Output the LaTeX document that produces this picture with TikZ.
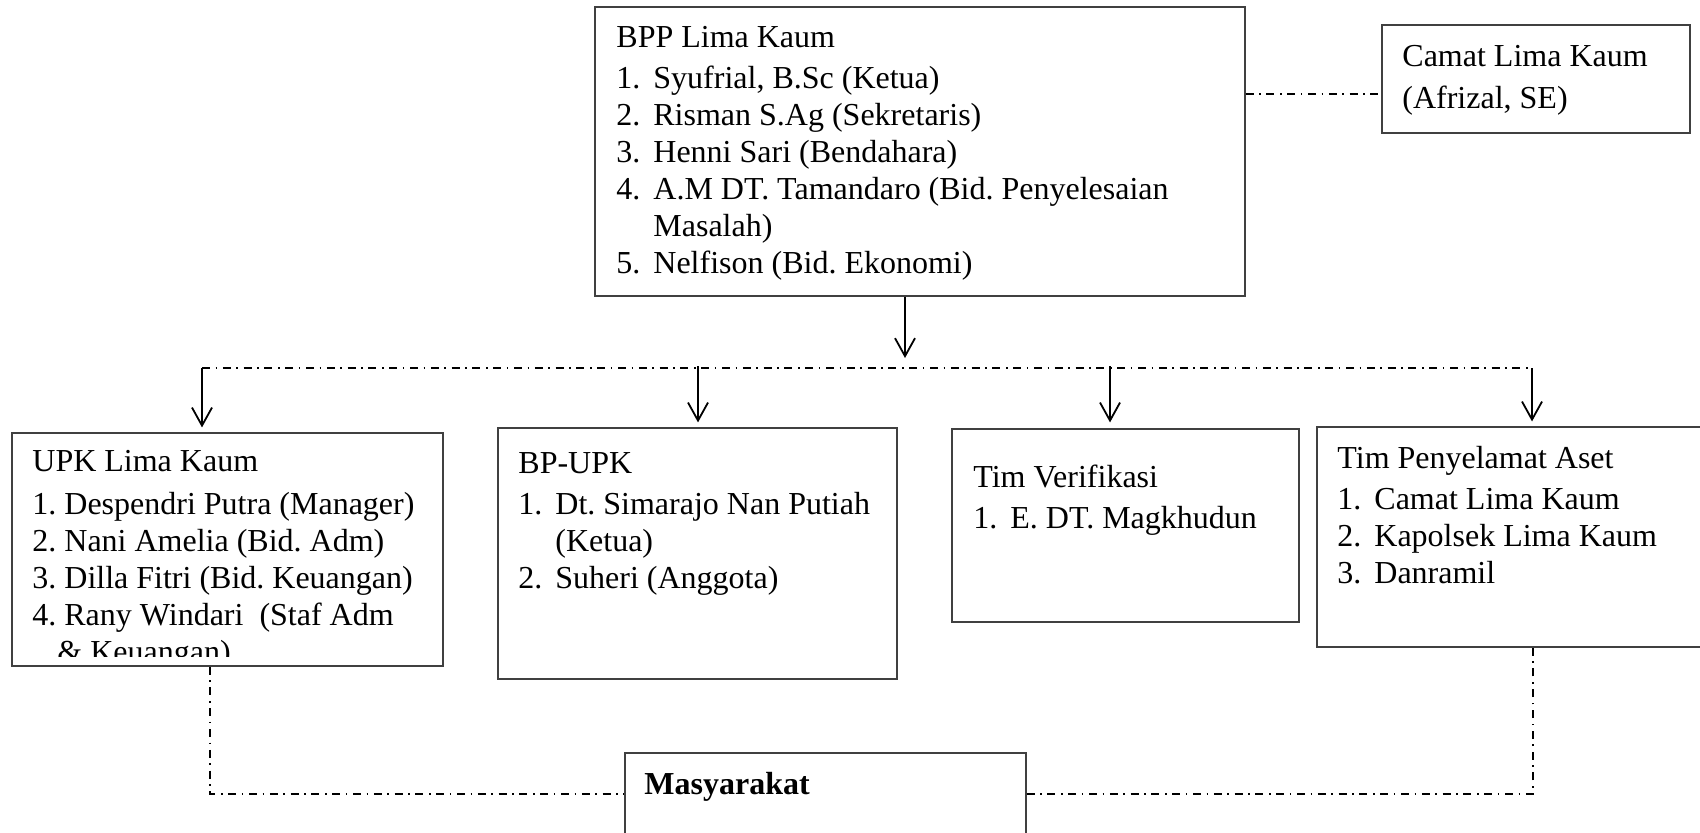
\documentclass[tikz,border=0pt]{standalone}
\usepackage{fontspec}
\setmainfont{Liberation Serif}
\usetikzlibrary{arrows.meta,fit}
\frenchspacing
\newcommand{\itm}[2]{\makebox[18.5pt][l]{#1}#2}
\begin{document}
\begin{tikzpicture}[x=0.5pt,y=-0.5pt,
  box/.style={draw=black!75,line width=0.6pt,inner sep=0pt},
  txt/.style={anchor=base west,inner sep=0pt,font=\fontsize{16pt}{18.5pt}\selectfont\frenchspacing},
  dd/.style={line width=0.8pt,dash pattern=on 4pt off 2.8pt on 0.8pt off 2.8pt},
  arr/.style={line width=0.9pt,-{Straight Barb[length=9pt,width=10pt,line width=0.9pt]}}]
\clip (0,0) rectangle (1700,832);
% boxes
\node[box,fit={(595,7) (1245,296)}] (bpp) {};
\node[box,fit={(1382,25) (1690,133)}] (camat) {};
\node[box,fit={(12,433) (443,666)}] (upk) {};
\node[box,fit={(498,428) (897,679)}] (bpupk) {};
\node[box,fit={(952,429) (1299,622)}] (tv) {};
\node[box,fit={(1317,427) (1712,647)}] (tpa) {};
\node[box,fit={(625,753) (1026,845)}] (mas) {};
% texts
\node[txt] (tbpp) at (616,47) {\begin{tabular}[t]{@{}l@{}}
BPP Lima Kaum\\[2pt]
\itm{1.}{Syufrial, B.Sc (Ketua)}\\
\itm{2.}{Risman S.Ag (Sekretaris)}\\
\itm{3.}{Henni Sari (Bendahara)}\\
\itm{4.}{A.M DT. Tamandaro (Bid. Penyelesaian}\\
\itm{}{Masalah)}\\
\itm{5.}{Nelfison (Bid. Ekonomi)}
\end{tabular}};
\node[txt] (tcamat) at (1402,66) {\begin{tabular}[t]{@{}l@{}}
Camat Lima Kaum\\[2.5pt]
(Afrizal, SE)
\end{tabular}};
\begin{scope}
\clip (12,433) rectangle (443,656);
\node[txt] (tupk) at (32,471) {\begin{tabular}[t]{@{}l@{}}
UPK Lima Kaum\\[3pt]
1. Despendri Putra (Manager)\\
2. Nani Amelia (Bid. Adm)\\
3. Dilla Fitri (Bid. Keuangan)\\
4. Rany Windari\ \ (Staf Adm\\
\hspace*{12.5pt}\& Keuangan)
\end{tabular}};
\end{scope}
\node[txt] (tbpupk) at (518,473) {\begin{tabular}[t]{@{}l@{}}
BP-UPK\\[2pt]
\itm{1.}{Dt. Simarajo Nan Putiah}\\
\itm{}{(Ketua)}\\
\itm{2.}{Suheri (Anggota)}
\end{tabular}};
\node[txt] (ttv) at (973,487) {\begin{tabular}[t]{@{}l@{}}
Tim Verifikasi\\[2pt]
\itm{1.}{E. DT. Magkhudun}
\end{tabular}};
\node[txt] (ttpa) at (1337,468) {\begin{tabular}[t]{@{}l@{}}
Tim Penyelamat Aset\\[2pt]
\itm{1.}{Camat Lima Kaum}\\
\itm{2.}{Kapolsek Lima Kaum}\\
\itm{3.}{Danramil}
\end{tabular}};
\node[txt] (tmas) at (644,794) {\textbf{Masyarakat}};
% connectors
\coordinate (cl) at (1300,94);
\draw[dd] (bpp.east |- cl) -- (camat.west |- cl);
\coordinate (bpptip) at (905,358);
\draw[arr] (bpp.south -| bpptip) -- (bpptip);
\coordinate (busL) at (202,368);
\coordinate (busR) at (1532,368);
\draw[dd] (busL) -- (busR);
\coordinate (a2) at (698,366);
\coordinate (a3) at (1110,366);
\draw[arr,shorten >=2.5pt] (busL) -- (upk.north -| busL);
\draw[arr,shorten >=2.5pt] (a2) -- (bpupk.north -| a2);
\draw[arr,shorten >=3pt] (a3) -- (tv.north -| a3);
\draw[arr,shorten >=2.5pt] (busR) -- (tpa.north -| busR);
\coordinate (bl) at (210,794);
\coordinate (br) at (1533,794);
\draw[dd] (upk.south -| bl) -- (bl) -- (mas.west |- bl);
\draw[dd] (mas.east |- br) -- (br) -- (tpa.south -| br);
\end{tikzpicture}
\end{document}
